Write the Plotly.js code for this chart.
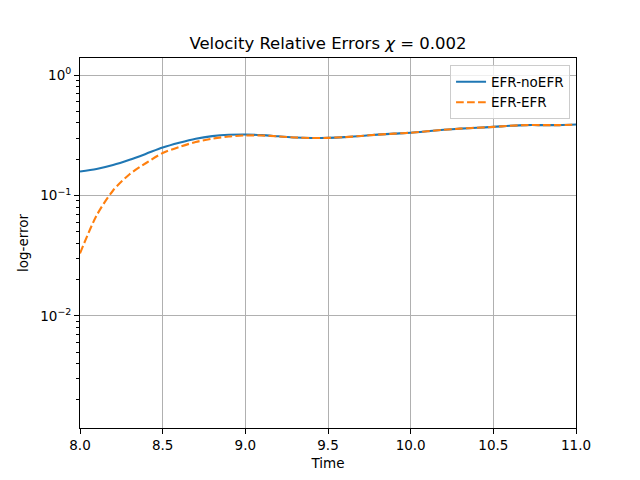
<!DOCTYPE html>
<html>
<head>
<meta charset="utf-8">
<script src="https://cdn.plot.ly/plotly-3.0.1.min.js"></script>
<style>
  body { margin: 0; background: #fff; }
  #grafico { width: 640px; height: 480px; }
</style>
</head>
<body>
<div id="grafico"></div>
<script>
// dados (tempo e erro relativo)
let tempo = [8.0, 8.1, 8.2, 8.3, 8.4, 8.5, 8.6, 8.7, 8.8, 8.9, 9.0,
  9.1, 9.2, 9.3, 9.4, 9.5, 9.6, 9.7, 9.8, 9.9, 10.0,
  10.1, 10.2, 10.3, 10.4, 10.5, 10.6, 10.7, 10.8, 10.9, 11.0];

let erroNoEFR = [0.158, 0.166, 0.179, 0.198, 0.222, 0.250, 0.274, 0.296, 0.311, 0.319, 0.321,
  0.317, 0.310, 0.303, 0.300, 0.301, 0.305, 0.312, 0.320, 0.326, 0.332,
  0.341, 0.351, 0.359, 0.365, 0.371, 0.379, 0.384, 0.384, 0.384, 0.388];

let erroEFR = [0.033, 0.068, 0.110, 0.150, 0.186, 0.225, 0.253, 0.278, 0.296, 0.309, 0.315,
  0.315, 0.309, 0.303, 0.300, 0.301, 0.305, 0.312, 0.320, 0.326, 0.332,
  0.341, 0.351, 0.359, 0.365, 0.371, 0.379, 0.384, 0.384, 0.384, 0.388];

let ticksX = [8.0, 8.5, 9.0, 9.5, 10.0, 10.5, 11.0];
let textoX = ['8.0', '8.5', '9.0', '9.5', '10.0', '10.5', '11.0'];
let ticksY = [0.01, 0.1, 1];
let textoY = ['10<sup>\u22122</sup>', '10<sup>\u22121</sup>', '10<sup>0</sup>'];
let ticksMenores = [0.002, 0.003, 0.004, 0.005, 0.006, 0.007, 0.008, 0.009,
  0.02, 0.03, 0.04, 0.05, 0.06, 0.07, 0.08, 0.09,
  0.2, 0.3, 0.4, 0.5, 0.6, 0.7, 0.8, 0.9];

var trace1 = {
  x: tempo,
  y: erroNoEFR,
  type: 'scatter',
  mode: 'lines',
  name: 'EFR-noEFR',
  line: { color: '#1f77b4', width: 2.1, shape: 'spline', smoothing: 0.8 }
};

var trace2 = {
  x: tempo,
  y: erroEFR,
  type: 'scatter',
  mode: 'lines',
  name: 'EFR-EFR',
  line: { color: '#ff7f0e', width: 2.1, dash: '7.7px,3.3px', shape: 'spline', smoothing: 0.8 }
};

var fonte = { family: 'DejaVu Sans', size: 13.5, color: '#000' };

var layout = {
  width: 640,
  height: 480,
  margin: { l: 80, r: 64, t: 58, b: 52 },
  paper_bgcolor: '#fff',
  plot_bgcolor: '#fff',
  font: fonte,
  showlegend: true,
  title: {
    text: 'Velocity Relative Errors <i>\u03c7</i> = 0.002',
    font: { family: 'DejaVu Sans', size: 16.5, color: '#000' },
    x: 0.5, xref: 'paper', xanchor: 'center',
    y: 1 - 43 / 480, yref: 'container', yanchor: 'middle'
  },
  xaxis: {
    range: [8, 11],
    tickvals: ticksX,
    ticktext: textoX,
    ticks: 'outside', ticklen: 5, tickwidth: 1, tickcolor: '#000',
    showline: true, linecolor: '#000', linewidth: 1, mirror: true,
    showgrid: true, gridcolor: '#b0b0b0', gridwidth: 1,
    zeroline: false,
    tickfont: fonte,
    title: { text: 'Time', font: fonte, standoff: 6 }
  },
  yaxis: {
    type: 'log',
    range: [Math.log10(0.00117), Math.log10(1.386)],
    tickvals: ticksY,
    ticktext: textoY,
    ticks: 'outside', ticklen: 5, tickwidth: 1, tickcolor: '#000',
    showline: true, linecolor: '#000', linewidth: 1, mirror: true,
    showgrid: true, gridcolor: '#b0b0b0', gridwidth: 1,
    zeroline: false,
    tickfont: fonte,
    minor: { tickvals: ticksMenores, ticks: 'outside', ticklen: 3, tickcolor: '#000', showgrid: false },
    title: { text: 'log-error', font: fonte, standoff: 8 }
  },
  legend: {
    x: 0.988, y: 0.98, xanchor: 'right', yanchor: 'top',
    bgcolor: 'rgba(255,255,255,0.8)',
    bordercolor: '#cccccc', borderwidth: 1,
    font: fonte,
    tracegroupgap: 0
  }
};

Plotly.newPlot('grafico', [trace1, trace2], layout, { staticPlot: true });
</script>
</body>
</html>
